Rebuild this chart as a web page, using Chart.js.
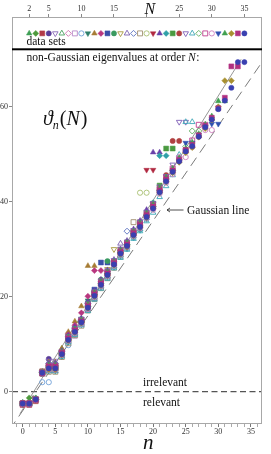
<!DOCTYPE html>
<html><head><meta charset="utf-8">
<script src="https://cdn.jsdelivr.net/npm/chart.js@4"></script>
<style>html,body{margin:0;padding:0;background:#fff}#wrap{width:271px;height:454px;position:relative}</style>
</head><body><div id="wrap"><canvas id="c" width="271" height="454"></canvas></div>
<script>
// eigenvalues theta_n(N), n = 0 .. N-1, one array per order N
const N2=[-2.4,-2.4];
const N3=[-2.7,-1.3,-1.3];
const N4=[-2.8,-2.8,-2.0,4.3];
const N5=[-2.6,-2.6,-1.8,3.7,6.9];
const N6=[-2.4,-2.4,-1.5,3.8,6.5,6.5];
const N7=[-2.3,-2.3,-1.7,4.1,5.9,5.9,9.0];
const N8=[-2.5,-2.5,-1.6,4.0,5.4,5.4,8.4,12.3];
const N9=[-2.6,-2.6,-1.6,3.9,5.2,5.2,7.8,11.8,11.8];
const N10=[-2.6,-2.6,-1.7,2.0,2.0,4.6,7.6,9.8,12.0,15.2];
const N11=[-2.5,-2.5,-1.6,4.1,4.4,4.4,7.4,10.4,12.2,15.4,19.2];
const N12=[-2.5,-2.5,-1.5,4.2,6.2,6.2,9.1,12.6,14.8,18.0,26.5,26.5];
const N13=[-2.4,-2.4,-1.6,4.0,5.6,5.6,8.6,12.0,14.0,16.6,20.1,25.5,25.5];
const N14=[-2.5,-2.5,-1.7,3.9,5.0,5.0,8.2,11.4,13.2,15.0,18.6,21.5,27.2,27.2];
const N15=[-2.5,-2.5,-1.6,4.0,4.8,4.8,8.0,11.0,12.8,14.8,18.2,20.8,23.6,27.5,27.5];
const N16=[-2.4,-2.4,-1.5,4.1,5.6,5.6,8.3,11.2,13.1,14.9,18.3,20.9,23.4,25.8,30.0,30.0];
const N17=[-2.6,-2.6,-1.7,3.9,4.4,4.4,7.6,10.6,12.2,14.2,17.2,19.6,22.0,24.2,26.9,31.2,31.2];
const N18=[-2.5,-2.5,-1.6,4.2,6.0,6.0,8.5,11.6,13.4,15.2,18.6,21.0,23.3,25.4,27.5,29.8,33.8,33.8];
const N19=[-2.4,-2.4,-1.8,3.8,4.2,4.2,7.3,10.2,11.9,13.9,17.1,19.5,21.8,23.9,26.1,28.4,31.0,35.7,35.7];
const N20=[-2.6,-2.6,-1.5,4.0,5.5,5.5,8.2,11.4,13.0,14.8,18.0,20.6,22.9,24.9,27.2,29.5,31.3,33.5,41.9,41.9];
const N21=[-2.5,-2.5,-1.6,4.1,4.7,4.7,7.7,10.7,12.4,14.4,17.5,20.0,22.4,24.5,26.6,28.8,30.5,32.8,35.2,46.7,46.7];
const N22=[-2.4,-2.4,-1.7,3.9,5.9,5.9,8.6,11.8,13.6,15.4,18.8,21.3,23.6,25.6,27.8,30.0,31.8,34.2,36.0,38.3,50.4,50.4];
const N23=[-2.6,-2.6,-1.5,4.0,4.5,4.5,7.5,10.5,12.1,14.1,17.2,19.7,22.0,24.1,26.2,28.5,30.1,32.4,34.0,36.3,39.8,49.7,49.7];
const N24=[-2.5,-2.5,-1.6,4.2,5.3,5.3,8.4,11.5,13.2,15.1,18.4,20.9,23.2,25.2,27.4,29.7,31.4,33.8,35.5,37.6,39.6,43.4,51.2,51.2];
const N25=[-2.4,-2.4,-1.6,3.9,4.8,4.8,7.9,10.9,12.6,14.6,17.7,20.3,22.6,24.7,26.9,29.1,30.8,33.1,34.8,36.9,38.8,42.2,45.6,52.8,52.8];
const N26=[-2.6,-2.6,-1.7,4.1,5.7,5.7,8.5,11.6,13.3,15.3,18.5,21.1,23.4,25.5,27.7,30.1,31.6,34.0,35.8,37.9,39.7,43.2,45.4,47.8,56.8,56.8];
const N27=[-2.5,-2.5,-1.5,4.0,4.3,4.3,7.4,10.4,12.0,14.0,17.0,19.4,21.7,23.8,26.0,28.2,29.9,32.2,33.8,35.9,37.7,41.0,43.3,45.6,49.9,56.8,56.8];
const N28=[-2.4,-2.4,-1.6,4.0,5.1,5.1,8.1,11.1,12.8,14.7,17.9,20.5,22.7,24.9,27.1,29.3,31.0,33.3,35.1,37.2,39.0,42.4,44.8,46.6,48.8,51.6,54.9,54.9];
const N29=[-2.6,-2.6,-1.6,4.1,5.4,5.4,8.3,11.3,13.0,15.0,18.2,20.7,23.0,25.1,27.3,29.6,31.2,33.6,35.3,37.4,39.3,42.7,45.0,47.0,49.1,50.8,52.9,56.2,56.2];
const N30=[-2.5,-2.5,-1.7,3.9,4.6,4.6,7.7,10.7,12.3,14.3,17.4,19.9,22.2,24.3,26.5,28.8,30.4,32.7,34.4,36.5,38.3,41.7,44.0,45.8,49.4,49.4,51.5,53.7,55.1,55.1];
const N31=[-2.4,-2.4,-1.6,4.0,5.0,5.0,8.0,11.0,12.7,14.6,17.8,20.2,22.5,24.6,26.8,29.0,30.6,33.0,34.6,36.8,38.6,42.0,44.3,46.2,48.4,52.4,52.4,54.1,55.8,56.4,56.4];
const N32=[-2.6,-2.6,-1.5,4.1,5.6,5.6,8.4,11.4,13.1,15.1,18.3,20.8,23.1,25.2,27.4,29.7,31.3,33.7,35.4,37.5,39.4,42.8,45.1,47.0,49.2,51.2,52.5,54.3,56.3,58.0,61.2,61.2];
const N33=[-2.5,-2.5,-1.6,4.0,4.7,4.7,7.8,10.8,12.5,14.5,17.6,20.1,22.4,24.5,26.7,29.0,30.5,32.9,34.6,36.7,38.6,41.9,44.2,46.1,48.3,50.3,51.4,53.6,55.4,57.2,60.0,65.5,65.5];
const N34=[-2.4,-2.4,-1.7,3.9,5.3,5.3,8.2,11.2,12.9,14.8,18.0,20.5,22.8,24.9,27.1,29.4,31.0,33.4,35.1,37.2,39.0,42.4,44.7,46.6,48.8,50.9,52.0,54.0,56.0,57.7,59.7,61.9,68.5,68.5];
const N35=[-2.5,-2.5,-1.6,4.0,4.9,4.9,7.9,10.9,12.6,14.6,17.7,20.2,22.5,24.6,26.8,29.1,30.7,33.0,34.7,36.8,38.6,42.0,44.3,46.3,48.5,50.6,51.7,53.7,55.7,57.3,59.5,61.3,64.0,69.4,69.4];

const dataSetOrders=[2,3,4,5,6,7,8,9,10,11,12,13,14,15,16,17,18,19,20,21,22,23,24,25,26,27,28,29,30,31,32,33,34,35];
const seriesByN={2:N2,3:N3,4:N4,5:N5,6:N6,7:N7,8:N8,9:N9,10:N10,11:N11,12:N12,13:N13,14:N14,15:N15,16:N16,17:N17,18:N18,19:N19,20:N20,21:N21,22:N22,23:N23,24:N24,25:N25,26:N26,27:N27,28:N28,29:N29,30:N30,31:N31,32:N32,33:N33,34:N34,35:N35};
const markerColors=['#3f9f55','#4e9a3c','#b23a48','#5a3d9a','#8b6bb8','#4aa060','#d070b0','#b888c8','#70a0d8','#2e7f6a',
 '#a67c35','#b8377f','#3a4fa8','#3a9a60','#a89840','#7b5fb0','#5a70c0','#a09070','#a8c070','#b02840',
 '#6a40a8','#30a0a8','#4a9a40','#b04040','#8060b8','#40a8b8','#60b060','#c04090','#d080c0','#3050b0',
 '#40a050','#a89030','#b03080','#3a40b0'];
const shapeCycle=['triangle','rectRot','rect','circle','triangle','triangle','rectRot','rect','circle','triangle'];
const rotCycle=[0,0,0,0,180,0,0,0,0,180];
const filledCycle=[true,true,true,true,false,false,false,false,false,true];
const radiusCycle=[3.2,3.0,3.5,2.6,3.2,3.2,3.0,3.5,2.6,3.2];

const nTicks=[0,5,10,15,20,25,30,35];
const NTicks=[2,5,10,15,20,25,30,35];
const NTickLabels=['2','5','10','15','','25','30','35'];
const thetaTicks=[0,20,40,60];
const gaussianLine=[{x:-2,y:-8},{x:38,y:72}];
const fitLine=[{x:-0.4,y:-4.6},{x:33.5,y:70.0}];
const legendRowValue=75.45;
const separatorValue=72.1;

const fontSerif="'Liberation Serif','DejaVu Serif',serif";

const datasets=[];
dataSetOrders.forEach((N,k)=>{
  const s=k%10, col=markerColors[k];
  datasets.push({
    label:'N='+N,
    data:seriesByN[N].map((v,i)=>({x:i,y:v})),
    order:100-N,
    pointStyle:shapeCycle[s], pointRotation:rotCycle[s], pointRadius:radiusCycle[s],
    pointBackgroundColor: filledCycle[s]?col:'rgba(255,255,255,0)',
    pointBorderColor:col, pointBorderWidth: filledCycle[s]?0.5:0.9,
    showLine:false
  });
});
datasets.push({
  label:'data sets', xAxisID:'xTop', order:0,
  data:dataSetOrders.map(N=>({x:N,y:legendRowValue})),
  pointStyle:dataSetOrders.map((N,k)=>shapeCycle[k%10]),
  pointRotation:dataSetOrders.map((N,k)=>rotCycle[k%10]),
  pointRadius:dataSetOrders.map((N,k)=>radiusCycle[k%10]),
  pointBackgroundColor:dataSetOrders.map((N,k)=>filledCycle[k%10]?markerColors[k]:'rgba(255,255,255,0)'),
  pointBorderColor:markerColors,
  pointBorderWidth:dataSetOrders.map((N,k)=>filledCycle[k%10]?0.5:0.9),
  showLine:false, clip:false
});
datasets.push({type:'line',label:'Gaussian line',data:gaussianLine,borderColor:'#7a7a7a',borderWidth:1,borderDash:[10,6],pointRadius:0,order:300,fill:false});
datasets.push({type:'line',label:'fit',data:fitLine,borderColor:'#8a8a8a',borderWidth:0.9,pointRadius:0,order:301,fill:false});

const minorN=[]; for(let i=-1;i<=36;i++) minorN.push(i);

const annot={
  id:'annot',
  beforeDatasetsDraw(chart){
    const {ctx,chartArea:a,scales}=chart;
    const y0=scales.y.getPixelForValue(0);
    ctx.save();
    ctx.strokeStyle='#555'; ctx.lineWidth=1.3; ctx.setLineDash([6,3.5]);
    ctx.beginPath(); ctx.moveTo(a.left,y0); ctx.lineTo(a.right,y0); ctx.stroke();
    ctx.restore();
  },
  afterDraw(chart){
    const {ctx,chartArea:a,scales}=chart;
    ctx.save();
    ctx.strokeStyle='#a8a8a8'; ctx.lineWidth=1;
    ctx.strokeRect(a.left+0.5,a.top+0.5,a.width-1,a.height-1);
    const ys=scales.y.getPixelForValue(separatorValue);
    ctx.fillStyle='#000'; ctx.fillRect(a.left,ys-1,a.width,2);
    ctx.fillStyle='#111';
    ctx.textBaseline='alphabetic';
    ctx.font='11.5px '+fontSerif;
    ctx.fillText('data sets',26.5,45);
    let x=26.5; const t1='non-Gaussian eigenvalues at order ';
    ctx.fillText(t1,x,61); x+=ctx.measureText(t1).width;
    ctx.font='italic 11.5px '+fontSerif; ctx.fillText('N',x,61); x+=ctx.measureText('N').width;
    ctx.font='11.5px '+fontSerif; ctx.fillText(':',x+0.5,61);
    x=43; ctx.font='italic 20px '+fontSerif; ctx.fillText('\u03D1',x,125); x+=ctx.measureText('\u03D1').width;
    ctx.font='italic 12px '+fontSerif; ctx.fillText('n',x,129); x+=ctx.measureText('n').width+1;
    ctx.font='20px '+fontSerif; ctx.fillText('(',x,125); x+=ctx.measureText('(').width;
    ctx.font='italic 20px '+fontSerif; ctx.fillText('N',x,125); x+=ctx.measureText('N').width+1;
    ctx.font='20px '+fontSerif; ctx.fillText(')',x,125);
    ctx.font='italic 16px '+fontSerif; ctx.fillText('N',144.5,13.5);
    ctx.font='italic 21px '+fontSerif; ctx.fillText('n',143,449);
    ctx.font='11.5px '+fontSerif; ctx.fillText('Gaussian line',187,213.5);
    ctx.strokeStyle='#222'; ctx.lineWidth=0.8; ctx.beginPath();
    ctx.moveTo(167,210); ctx.lineTo(183.5,210);
    ctx.moveTo(170,208); ctx.lineTo(167,210); ctx.lineTo(170,212); ctx.stroke();
    ctx.fillText('irrelevant',143,386);
    ctx.fillText('relevant',143,406);
    ctx.restore();
  }
};

const tickFont={family:fontSerif,size:8};
new Chart(document.getElementById('c'),{
  type:'scatter',
  data:{datasets},
  options:{
    responsive:false, animation:false, devicePixelRatio:1,
    layout:{padding:{left:0,right:9,top:0,bottom:0}},
    plugins:{legend:{display:false},tooltip:{enabled:false}},
    scales:{
      x:{type:'linear',position:'bottom',min:-1.64,max:36.7,
        afterBuildTicks:s=>{s.ticks=minorN.map(v=>({value:v}));},
        afterFit:s=>{s.height=30;},
        ticks:{autoSkip:false,maxRotation:0,padding:0,font:tickFont,color:'#333',
          callback:v=>nTicks.includes(v)?String(v):''},
        grid:{drawOnChartArea:false,drawTicks:true,tickLength:3,
          tickColor:c=>(c.tick&&nTicks.includes(c.tick.value))?'#777':'#aaa'},
        border:{display:false}},
      xTop:{type:'linear',position:'top',min:-0.64,max:37.7,
        afterBuildTicks:s=>{s.ticks=NTicks.map(v=>({value:v}));},
        afterFit:s=>{s.height=17;},
        ticks:{autoSkip:false,maxRotation:0,padding:0,font:tickFont,color:'#333',
          callback:(v,i)=>NTickLabels[i]},
        grid:{drawOnChartArea:false,drawTicks:true,tickLength:3,tickColor:'#888'},
        border:{display:false}},
      y:{type:'linear',position:'left',min:-6.8,max:78.9,
        afterBuildTicks:s=>{s.ticks=thetaTicks.map(v=>({value:v}));},
        afterFit:s=>{s.width=12;},
        ticks:{padding:1,font:tickFont,color:'#333'},
        grid:{drawOnChartArea:false,drawTicks:true,tickLength:3,tickColor:'#888'},
        border:{display:false}}
    }
  },
  plugins:[annot]
});
</script></body></html>
